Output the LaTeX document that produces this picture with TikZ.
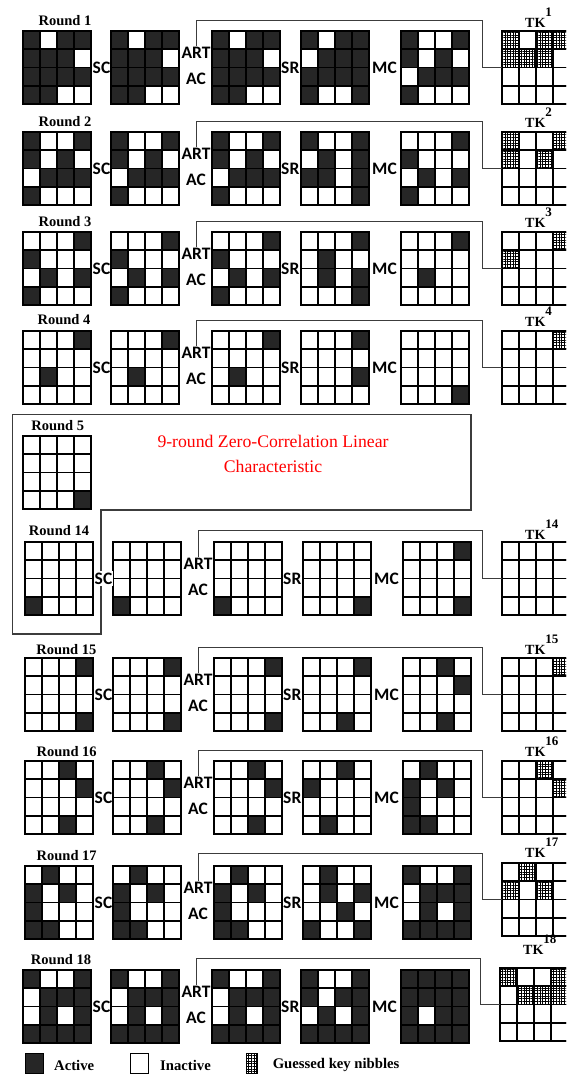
\documentclass[tikz,border=0pt]{standalone}
\usepackage{fontspec}
\setmainfont{Liberation Serif}
\newfontfamily\calib{Carlito}
\usetikzlibrary{patterns.meta}
\definecolor{actfill}{RGB}{38,38,38}
\definecolor{lineclr}{RGB}{60,60,60}
\tikzset{
  hatchfill/.style={pattern={Hatch[angle=0,distance=2.7pt,line width=0.55pt]}, pattern color=black},
  cellW/.style={fill=white, draw=black, line width=1.7pt},
  cellB/.style={fill=actfill, draw=black, line width=1.7pt},
  cellH/.style={hatchfill, draw=black, line width=1.7pt},
  gridframe/.style={draw=black, line width=2.1pt, minimum width=68pt, minimum height=73pt, inner sep=0pt, outer sep=0pt},
  oplab/.style={font=\calib\bfseries\fontsize{17.5}{17.5}\selectfont, inner sep=1pt},
  rlab/.style={font=\bfseries\fontsize{14.5}{14.5}\selectfont, inner sep=0pt},
  tklab/.style={font=\bfseries\fontsize{14}{14}\selectfont, inner sep=0pt},
  conn/.style={draw=lineclr, line width=0.9pt},
  legsq/.style={draw=black, line width=1.2pt, minimum width=18pt, minimum height=20pt, inner sep=0pt},
  legtxt/.style={font=\bfseries\fontsize{14.7}{14.7}\selectfont, inner sep=0pt, anchor=west}
}
% #1 name, #2 left x, #3 top y, #4 16 values (0 inactive, 1 active, 2 guessed)
\newcommand\sgrid[4]{%
  \foreach \v [count=\n from 0] in {#4}{%
    \pgfmathtruncatemacro\rr{floor(\n/4)}%
    \pgfmathtruncatemacro\cc{\n-4*\rr}%
    \ifcase\v\relax
      \path[cellW] ({#2+\cc*17},{#3+\rr*18.25}) rectangle ++(17,18.25);
    \or
      \path[cellB] ({#2+\cc*17},{#3+\rr*18.25}) rectangle ++(17,18.25);
    \or
      \path[cellH] ({#2+\cc*17},{#3+\rr*18.25}) rectangle ++(17,18.25);
    \fi
  }%
  \node[gridframe] (#1) at ({#2+34},{#3+36.5}) {};
}
% #1 id, #2 dx, #3 top, #4 input state, #5 after SR, #6 after MC
\newcommand\oprow[6]{%
  \sgrid{#1a}{23+#2}{#3}{#4}
  \sgrid{#1b}{111+#2}{#3}{#4}
  \sgrid{#1c}{212+#2}{#3}{#4}
  \sgrid{#1d}{301+#2}{#3}{#5}
  \sgrid{#1e}{401+#2}{#3}{#6}
  \node[oplab] (#1sc) at ({101.5+#2},{#3+36.5}) {SC};
  \node[oplab] (#1art) at ({196+#2},{#3+22.3}) {ART};
  \node[oplab] (#1ac) at ({196+#2},{#3+48.3}) {AC};
  \node[oplab] (#1sr) at ({290.3+#2},{#3+36.5}) {SR};
  \node[oplab] (#1mc) at ({384.5+#2},{#3+36.5}) {MC};
}
% #1 id, #2 x, #3 top, #4 key state, #5 label baseline, #6 superscript, #7 connector top y, #8 connector bend x
\newcommand\tkpart[8]{%
  \sgrid{#1k}{#2}{#3}{#4}
  \node[tklab, anchor=base west] (#1tk) at ({#2+23},{#5}) {TK\raisebox{11pt}{\fontsize{13}{13}\selectfont #6}};
  \coordinate (#1bend) at (#8,#7);
  \draw[conn] (#1art.north) |- (#1bend) |- (#1k.west);
}
\begin{document}
\begin{tikzpicture}[x=1pt,y=-1pt]
\useasboundingbox (0,0) rectangle (566,1077);
\clip (0,0) rectangle (566,1077);

% ---------- Round 1
\node[rlab] (r1lab) at (65,20.7) {Round 1};
\oprow{r1}{0}{31}{1,0,1,1, 1,1,1,0, 1,1,1,1, 1,1,0,0}{1,0,1,1, 0,1,1,1, 1,1,1,1, 1,0,0,1}{1,0,0,1, 1,0,1,0, 0,1,1,1, 1,0,0,0}
\tkpart{r1}{502}{31}{2,0,2,2, 2,2,2,0, 0,0,0,0, 0,0,0,0}{27.9}{1}{20}{482}

% ---------- Round 2
\node[rlab] (r2lab) at (65,121.7) {Round 2};
\oprow{r2}{0}{132}{1,0,0,1, 1,0,1,0, 0,1,1,1, 1,0,0,0}{1,0,0,1, 0,1,0,1, 1,1,0,1, 0,0,0,1}{0,0,0,1, 1,0,0,0, 0,1,0,1, 1,0,0,0}
\tkpart{r2}{502}{132}{2,0,0,2, 2,0,2,0, 0,0,0,0, 0,0,0,0}{127.9}{2}{121}{482}

% ---------- Round 3
\node[rlab] (r3lab) at (65,221.7) {Round 3};
\oprow{r3}{0}{232}{0,0,0,1, 1,0,0,0, 0,1,0,1, 1,0,0,0}{0,0,0,1, 0,1,0,0, 0,1,0,1, 0,0,0,1}{0,0,0,1, 0,0,0,0, 0,1,0,0, 0,0,0,0}
\tkpart{r3}{502}{232}{0,0,0,2, 2,0,0,0, 0,0,0,0, 0,0,0,0}{227.9}{3}{221.7}{482}

% ---------- Round 4
\node[rlab] (r4lab) at (64,320) {Round 4};
\oprow{r4}{0}{331}{0,0,0,1, 0,0,0,0, 0,1,0,0, 0,0,0,0}{0,0,0,1, 0,0,0,0, 0,0,0,1, 0,0,0,0}{0,0,0,0, 0,0,0,0, 0,0,0,0, 0,0,0,1}
\tkpart{r4}{502}{331}{0,0,0,2, 0,0,0,0, 0,0,0,0, 0,0,0,0}{326.3}{4}{320}{482}

% ---------- Round 5 and the 9-round characteristic
\draw[draw=lineclr, line width=1.1pt] (12.6,414.3) -- (471,414.3) -- (471,510) -- (101,510) -- (101,634) -- (12.6,634) -- cycle;
\node[rlab] (r5lab) at (57.8,425.7) {Round 5};
\sgrid{r5a}{23}{436}{0,0,0,0, 0,0,0,0, 0,0,0,0, 0,0,0,1}
\node[font=\fontsize{17.7}{25}\selectfont, text=red, align=center, inner sep=0pt] (zc) at (273,454.2) {9-round Zero-Correlation Linear\\Characteristic};

% ---------- Round 14
\node[rlab] (r14lab) at (59,530.7) {Round 14};
\oprow{r14}{2}{542}{0,0,0,0, 0,0,0,0, 0,0,0,0, 1,0,0,0}{0,0,0,0, 0,0,0,0, 0,0,0,0, 0,0,0,1}{0,0,0,1, 0,0,0,0, 0,0,0,0, 0,0,0,1}
\node[oplab, fill=white, inner ysep=2pt] at (r14sc) {SC};
\tkpart{r14}{502}{542}{0,0,0,0, 0,0,0,0, 0,0,0,0, 0,0,0,0}{539.6}{14}{530}{482}

% ---------- Round 15
\node[rlab] (r15lab) at (66.4,650) {Round 15};
\oprow{r15}{2}{658}{0,0,0,1, 0,0,0,0, 0,0,0,0, 0,0,0,1}{0,0,0,1, 0,0,0,0, 0,0,0,0, 0,0,1,0}{0,0,1,0, 0,0,0,1, 0,0,0,0, 0,0,1,0}
\tkpart{r15}{502}{658}{0,0,0,2, 0,0,0,0, 0,0,0,0, 0,0,0,0}{654.6}{15}{647.7}{482}

% ---------- Round 16
\node[rlab] (r16lab) at (66.7,751.7) {Round 16};
\oprow{r16}{2}{761}{0,0,1,0, 0,0,0,1, 0,0,0,0, 0,0,1,0}{0,0,1,0, 1,0,0,0, 0,0,0,0, 0,1,0,0}{0,1,0,0, 1,0,1,0, 1,0,0,0, 1,1,0,0}
\tkpart{r16}{502}{761}{0,0,2,0, 0,0,0,2, 0,0,0,0, 0,0,0,0}{756.3}{16}{750.7}{482}

% ---------- Round 17
\node[rlab] (r17lab) at (66.7,855.7) {Round 17};
\oprow{r17}{2}{866}{0,1,0,0, 1,0,1,0, 1,0,0,0, 1,1,0,0}{0,1,0,0, 0,1,0,1, 0,0,1,0, 1,0,0,1}{1,0,0,1, 0,1,1,1, 0,1,0,1, 1,1,1,1}
\tkpart{r17}{502}{863}{0,2,0,0, 2,0,2,0, 0,0,0,0, 0,0,0,0}{857.9}{17}{853.3}{482}

% ---------- Round 18
\node[rlab] (r18lab) at (61,960) {Round 18};
\oprow{r18}{0}{970}{1,0,0,1, 0,1,1,1, 0,1,0,1, 1,1,1,1}{1,0,0,1, 1,0,1,1, 0,1,0,1, 1,1,1,1}{1,1,1,1, 1,1,1,1, 1,0,1,1, 1,1,1,1}
\tkpart{r18}{500}{968}{2,0,0,2, 0,2,2,2, 0,0,0,0, 0,0,0,0}{954.6}{18}{958.3}{480}

% ---------- Legend
\node[legsq, fill=actfill] (lgA) at (34.3,1063.3) {};
\node[legtxt] (lgAt) at (54,1065) {Active};
\node[legsq, fill=white] (lgI) at (139.3,1063.3) {};
\node[legtxt] (lgIt) at (160,1065) {Inactive};
\node[legsq, hatchfill, minimum width=11pt, line width=0.9pt] (lgH) at (251.5,1063.3) {};
\node[legtxt] (lgHt) at (272.6,1065) {Guessed key nibbles};
\end{tikzpicture}
\end{document}
